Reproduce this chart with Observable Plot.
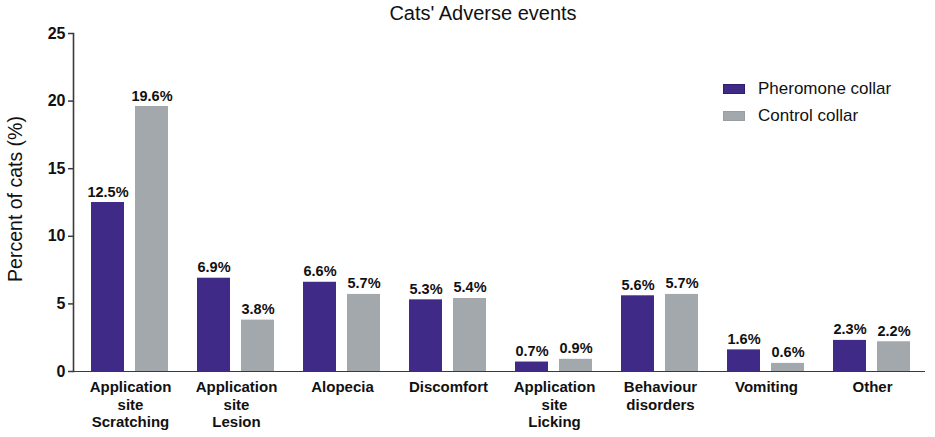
<!DOCTYPE html>
<html>
<head>
<meta charset="utf-8">
<script src="https://cdn.jsdelivr.net/npm/d3@7"></script>
<script src="https://cdn.jsdelivr.net/npm/@observablehq/plot@0.6"></script>
<style>
  body { margin: 0; background: #fff; font-family: "Liberation Sans", Arial, sans-serif; }
  #wrap { position: relative; width: 935px; height: 437px; }
  #title { height: 26px; line-height: 26px; font-size: 20px; text-align: center; padding-left: 31px; box-sizing: border-box; width: 935px; color: #111; }
  .leg { position: absolute; left: 723px; font-size: 17px; color: #111; display: flex; align-items: center; }
  .sw { width: 22px; height: 10px; margin-right: 13px; box-sizing: border-box; }
  #ylab { position: absolute; left: 15px; top: 199px; transform: translate(-50%, -50%) rotate(-90deg); font-size: 19.5px; white-space: nowrap; color: #111; }
</style>
</head>
<body>
<div id="wrap">
  <div id="title">Cats' Adverse events</div>
  <div id="chart"></div>
  <div id="ylab">Percent of cats (%)</div>
  <div class="leg" style="top:79px"><div class="sw" style="background:#402A88;border:1px solid #2F1E70"></div>Pheromone collar</div>
  <div class="leg" style="top:106px"><div class="sw" style="background:#A2A8AB;border:1px solid #979DA0"></div>Control collar</div>
</div>
<script>
const categories = ["Application\nsite\nScratching", "Application\nsite\nLesion", "Alopecia", "Discomfort", "Application\nsite\nLicking", "Behaviour\ndisorders", "Vomiting", "Other"];
const series = ["Pheromone collar", "Control collar"];
const pheromone = [12.5, 6.9, 6.6, 5.3, 0.7, 5.6, 1.6, 2.3];
const control = [19.6, 3.8, 5.7, 5.4, 0.9, 5.7, 0.6, 2.2];
const colors = ["#402A88", "#A2A8AB"];
const yTicks = [0, 5, 10, 15, 20, 25];

const data = [];
categories.forEach((c, i) => {
  data.push({category: c, series: series[0], value: pheromone[i]});
  data.push({category: c, series: series[1], value: control[i]});
});

const axisColor = "#3a3a3a";

const chart = Plot.plot({
  width: 935,
  height: 411,
  marginLeft: 75,
  marginRight: 9,
  marginTop: 7,
  marginBottom: 66,
  style: {fontFamily: "Liberation Sans, Arial, sans-serif", background: "#fff"},
  fx: {domain: categories, padding: 0, axis: null},
  x: {domain: series, paddingInner: 0.244, paddingOuter: 0.31, axis: null},
  y: {domain: [0, 25], axis: null},
  color: {domain: series, range: colors},
  marks: [
    Plot.barY(data, {fx: "category", x: "series", y: "value", fill: "series"}),
    Plot.text(data, {fx: "category", x: "series", y: "value", text: d => d.value.toFixed(1) + "%", lineAnchor: "bottom", dy: -6, fontWeight: "bold", fontSize: 14.5, fill: "#111"}),
    Plot.text(categories, {fx: d => d, text: d => d, frameAnchor: "bottom", lineAnchor: "top", dy: 8, fontWeight: "bold", fontSize: 15, lineHeight: 1.17, fill: "#111"}),
    Plot.ruleY([0], {stroke: axisColor, strokeWidth: 1.6, shapeRendering: "crispEdges"}),
    Plot.ruleY([0], {facetAnchor: "left", stroke: axisColor, strokeWidth: 1.6, insetLeft: -4, insetRight: 100, shapeRendering: "crispEdges"}),
    Plot.frame({anchor: "left", facetAnchor: "left", stroke: axisColor, strokeWidth: 1.6, dx: -4}),
    Plot.axisY({ticks: yTicks, tickSize: 5, tickPadding: 3, dx: -4, fontWeight: "bold", fontSize: 16, fill: "#111", stroke: axisColor, strokeWidth: 1.5,
      label: null, tickFormat: d => String(d)})
  ]
});
document.getElementById("chart").appendChild(chart);
</script>
</body>
</html>
